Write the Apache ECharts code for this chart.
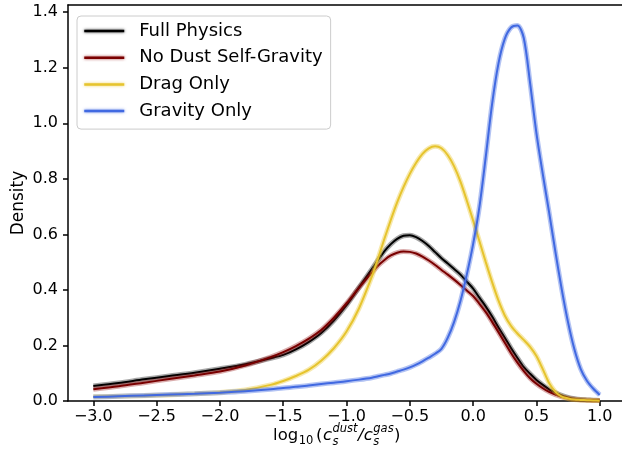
<!DOCTYPE html>
<html><head><meta charset="utf-8">
<script src="https://cdn.jsdelivr.net/npm/echarts@6/dist/echarts.min.js"></script>
<style>html,body{margin:0;padding:0;background:#fff;overflow:hidden}#c{width:622px;height:460px;overflow:hidden}</style>
</head><body><div id="c"></div>
<script>
// x grid (log10 of sound speed ratio)
const xs = [-3.0,-2.8,-2.6,-2.4,-2.2,-2.0,-1.8,-1.6,-1.5,-1.4,-1.3,-1.2,-1.1,-1.0,-0.9,-0.8,-0.75,-0.7,-0.65,-0.6,-0.55,-0.5,-0.45,-0.4,-0.35,-0.3,-0.25,-0.2,-0.15,-0.1,-0.05,0.0,0.05,0.1,0.15,0.2,0.25,0.3,0.35,0.4,0.45,0.5,0.55,0.6,0.65,0.7,0.75,0.8,0.85,0.9,0.95,1.0];
const fullPhysics = [0.054,0.065,0.078,0.090,0.102,0.116,0.132,0.154,0.166,0.186,0.212,0.245,0.290,0.345,0.410,0.475,0.508,0.540,0.565,0.584,0.595,0.597,0.590,0.576,0.558,0.536,0.514,0.495,0.475,0.455,0.430,0.405,0.372,0.340,0.304,0.265,0.228,0.190,0.155,0.122,0.098,0.076,0.058,0.042,0.030,0.020,0.013,0.008,0.005,0.004,0.003,0.002];
const noDustSelfGravity = [0.042,0.053,0.066,0.079,0.092,0.106,0.128,0.158,0.176,0.198,0.224,0.256,0.300,0.352,0.408,0.462,0.488,0.508,0.524,0.534,0.538,0.537,0.531,0.520,0.506,0.490,0.472,0.455,0.437,0.418,0.398,0.378,0.350,0.320,0.285,0.248,0.210,0.172,0.138,0.108,0.082,0.062,0.046,0.033,0.023,0.015,0.010,0.006,0.004,0.003,0.002,0.002];
const dragOnly = [0.015,0.017,0.019,0.022,0.026,0.031,0.040,0.058,0.072,0.090,0.112,0.145,0.190,0.250,0.335,0.448,0.515,0.585,0.652,0.715,0.770,0.818,0.858,0.890,0.910,0.917,0.910,0.885,0.845,0.790,0.722,0.650,0.575,0.500,0.428,0.362,0.308,0.270,0.243,0.220,0.195,0.162,0.115,0.065,0.033,0.016,0.009,0.005,0.004,0.003,0.002,0.001];
const gravityOnly = [0.014,0.017,0.020,0.023,0.026,0.030,0.035,0.042,0.047,0.051,0.056,0.061,0.066,0.071,0.077,0.084,0.089,0.094,0.099,0.106,0.113,0.121,0.131,0.143,0.156,0.170,0.188,0.228,0.285,0.360,0.455,0.565,0.700,0.880,1.070,1.215,1.304,1.345,1.352,1.307,1.145,0.965,0.818,0.680,0.537,0.402,0.283,0.186,0.115,0.072,0.044,0.022];
const seriesNames = ['Full Physics','No Dust Self-Gravity','Drag Only','Gravity Only'];
const xTicks = [-3.0,-2.5,-2.0,-1.5,-1.0,-0.5,0.0,0.5,1.0];
const yTicks = [0.0,0.2,0.4,0.6,0.8,1.0,1.2,1.4];

const colors = ['#000000','#7a0000','#e6c42e','#4169e1'];
const halos = ['rgba(0,0,0,0.35)','rgba(150,20,20,0.35)','rgba(235,200,50,0.4)','rgba(65,105,225,0.4)'];
const allY = [fullPhysics, noDustSelfGravity, dragOnly, gravityOnly];

const FONT = '"DejaVu Sans", sans-serif';
const chart = echarts.init(document.getElementById('c'), null, {renderer:'canvas'});

function pts(i){ return xs.map((x,k)=>[x, allY[i][k]]); }
function mkHalo(i){
  return {
    type:'line', name: seriesNames[i] + ' halo', data: pts(i),
    smooth: 0.3, showSymbol:false, symbol:'none',
    lineStyle:{color:halos[i], width:5},
    itemStyle:{opacity:0},
    emphasis:{disabled:true}, silent:true, z: 2 + 2*i
  };
}
function mk(i){
  return {
    type:'line', name: seriesNames[i], data: pts(i),
    smooth: 0.3, showSymbol:false, symbol:'none',
    lineStyle:{color:colors[i], width:2},
    itemStyle:{color:colors[i], opacity:0},
    emphasis:{disabled:true}, z: 3 + 2*i
  };
}

// x-axis label built from real text pieces (mathtext-like)
const cv = document.createElement('canvas').getContext('2d');
function tw(t, f){ cv.font = f; return cv.measureText(t).width; }
const FS = 16.5, SS = 11.5;
const fUp = FS + 'px ' + FONT, fIt = 'italic ' + FS + 'px ' + FONT;
const fSubUp = SS + 'px ' + FONT, fSubIt = 'italic ' + SS + 'px ' + FONT;
const pieces = [
  [{t:'log', f:fUp, dy:0}],
  [{t:'10', f:fSubUp, dy:3.5}],
  [{t:'', f:fSubUp, dy:0, w:2}],
  [{t:'(', f:fUp, dy:0}],
  [{t:'c', f:fIt, dy:0}],
  [{t:'dust', f:fSubIt, dy:-8.5},{t:'s', f:fSubIt, dy:5}],
  [{t:'/', f:fIt, dy:0}],
  [{t:'c', f:fIt, dy:0}],
  [{t:'gas', f:fSubIt, dy:-8.5},{t:'s', f:fSubIt, dy:5}],
  [{t:')', f:fUp, dy:0}]
];
const widths = pieces.map(p => Math.max(...p.map(q => q.w != null ? q.w : tw(q.t, q.f))) + 0.4);
const total = widths.reduce((a,b)=>a+b,0);
const baseline = 441.5, centerX = 337;
let cx = centerX - total/2;
const labelEls = [];
pieces.forEach((p, i) => {
  p.forEach(q => {
    if (q.t === '') return;
    const sz = parseFloat(q.f.match(/([\d.]+)px/)[1]);
    labelEls.push({type:'text', x: cx, y: baseline + q.dy - 0.36*sz, silent:true,
      style:{text:q.t, font:q.f, fill:'#000', align:'left', verticalAlign:'middle'}});
  });
  cx += widths[i];
});

const axisLineStyle = {color:'#000', width:1.5};
const series = [];
for (let i = 0; i < 4; i++) { series.push(mkHalo(i)); series.push(mk(i)); }

chart.setOption({
  animation:false,
  backgroundColor:'#fff',
  grid:{left:68, right:0, top:5, bottom:59, containLabel:false, outerBoundsMode:'none', show:false},
  xAxis:[{type:'value', min:-3.2, max:1.176,
    axisLine:{show:true, onZero:false, lineStyle:axisLineStyle},
    axisTick:{show:true, length:5, customValues:xTicks, lineStyle:axisLineStyle},
    axisLabel:{customValues:xTicks, margin:8, color:'#000', fontSize:16, fontFamily:FONT,
      formatter: v => (v < 0 ? '\u2212' : '') + Math.abs(v).toFixed(1)},
    splitLine:{show:false}},
    {type:'value', position:'top', min:-3.2, max:1.176,
    axisLine:{show:true, onZero:false, lineStyle:axisLineStyle},
    axisTick:{show:false}, axisLabel:{show:false}, splitLine:{show:false}}],
  yAxis:{type:'value', min:0, max:1.426,
    axisLine:{show:true, onZero:false, lineStyle:axisLineStyle},
    axisTick:{show:true, length:5, customValues:yTicks, lineStyle:axisLineStyle},
    axisLabel:{customValues:yTicks, margin:10, color:'#000', fontSize:16, fontFamily:FONT,
      formatter: v => v.toFixed(1)},
    splitLine:{show:false},
    name:'Density', nameLocation:'middle', nameGap:41, nameRotate:90, nameMoveOverlap:false,
    nameTextStyle:{color:'#000', fontSize:17, fontFamily:FONT}},
  legend:{orient:'vertical', left:77, top:16,
    data: seriesNames.map((n,i)=>({name:n, lineStyle:{width:2.5, color:colors[i], shadowBlur:3, shadowColor:halos[i].replace(/[\d.]+\)$/,'0.8)')}, itemStyle:{opacity:0}})),
    itemWidth:40, itemHeight:20, itemGap:6.7, padding:[5,8,8,6],
    backgroundColor:'rgba(255,255,255,0.8)', borderColor:'#cccccc', borderWidth:1, borderRadius:4,
    textStyle:{color:'#000', fontSize:18, fontFamily:FONT, lineHeight:20, padding:[0,0,0,10]},
    selectedMode:false},
  series: series,
  graphic:{elements: labelEls}
});
</script>
</body></html>
